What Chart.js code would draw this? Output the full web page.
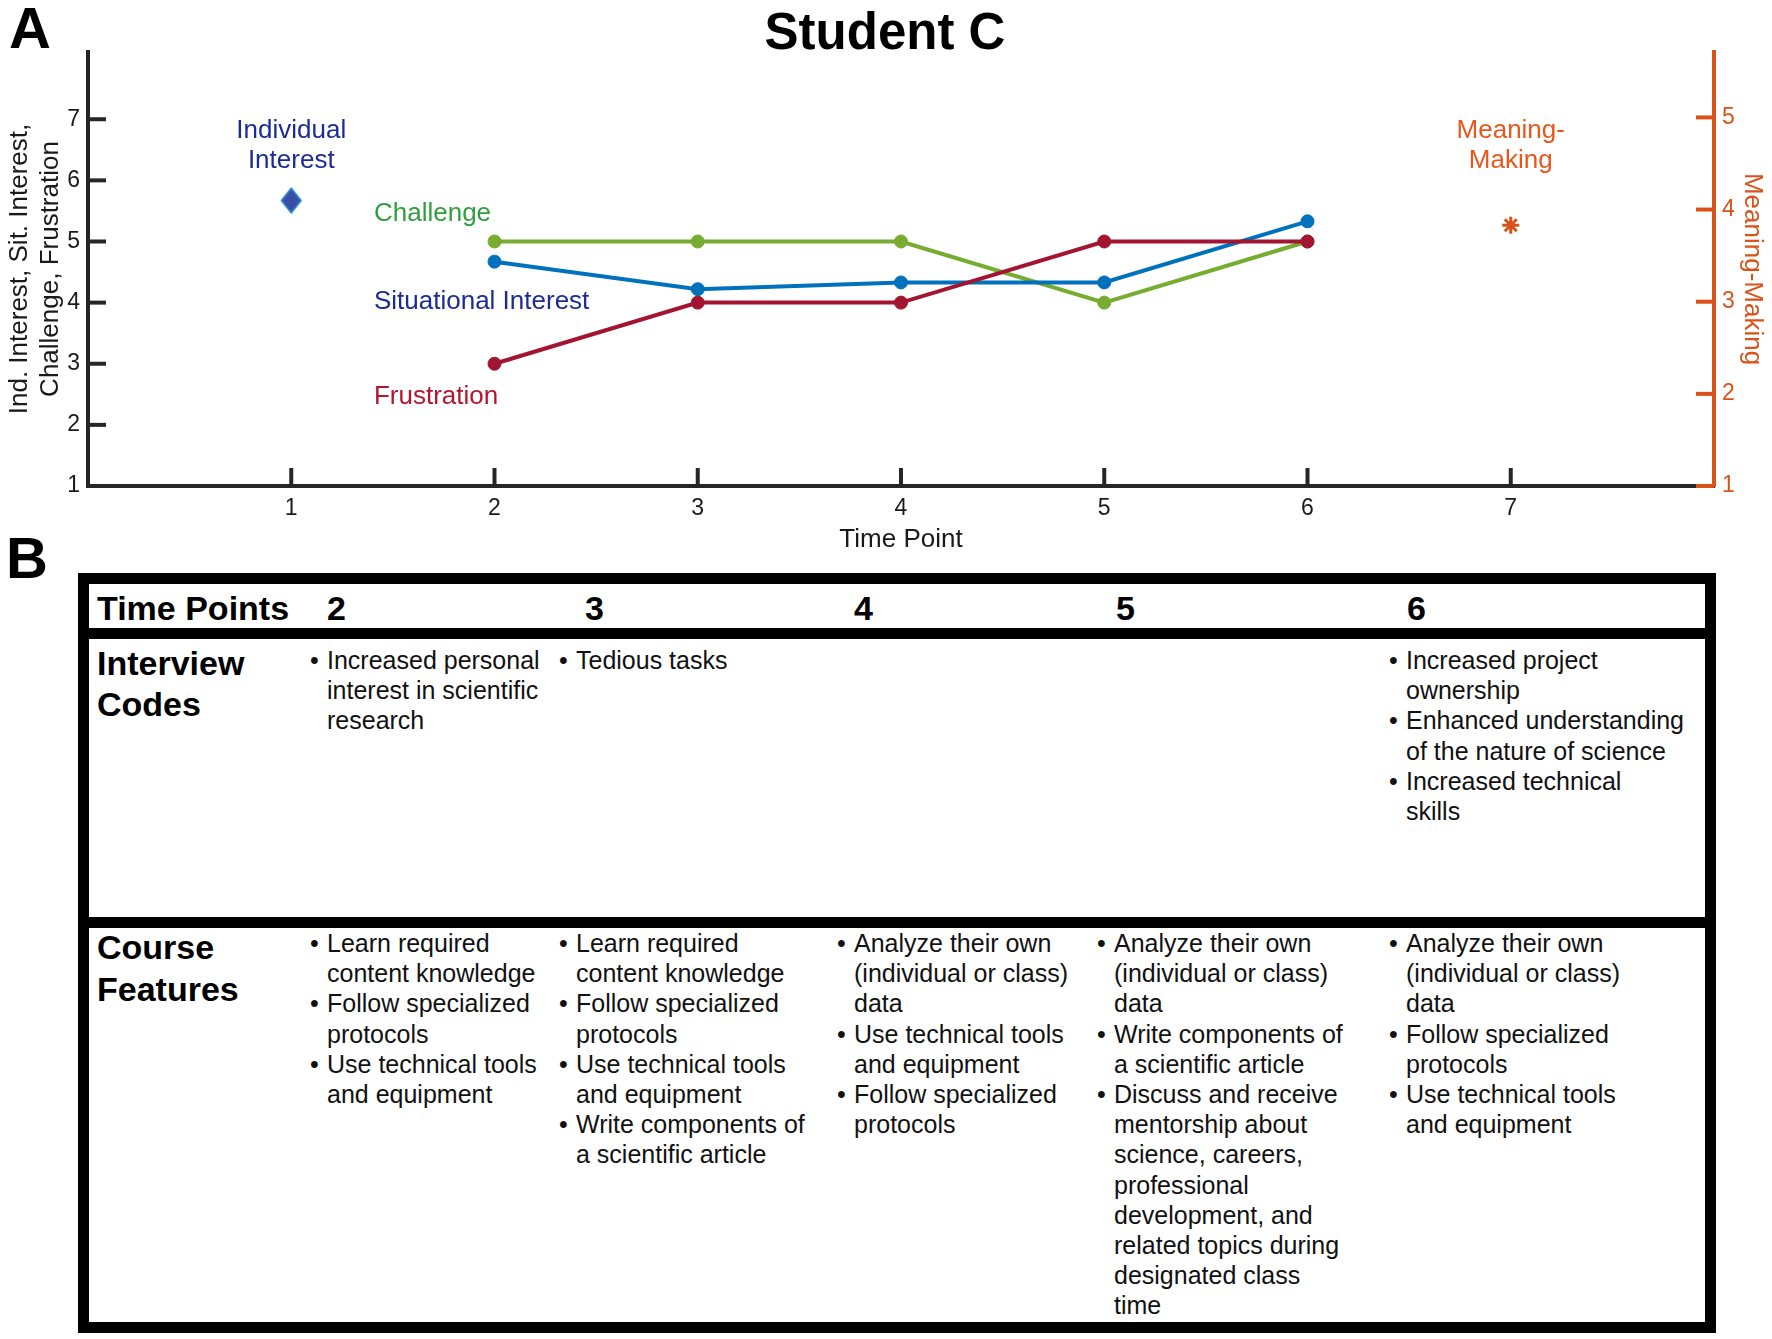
<!DOCTYPE html>
<html>
<head>
<meta charset="utf-8">
<script src="https://cdn.jsdelivr.net/npm/chart.js@4.4.1/dist/chart.umd.min.js"></script>
<style>
  html, body { margin: 0; padding: 0; background: #fff; }
  body { width: 1772px; height: 1339px; position: relative; overflow: hidden;
         font-family: "Liberation Sans", Arial, sans-serif; color: #111; }
  .abs { position: absolute; white-space: nowrap; }
  .panel { font-family: "Liberation Sans Narrow", "Liberation Sans", Arial, sans-serif;
           font-weight: bold; font-size: 58px; line-height: 58px; color: #000; }
  .title { font-weight: bold; font-size: 51px; line-height: 51px; color: #000; }
  .frame { box-sizing: border-box; border: 11px solid #000; }
  .rule { background: #000; }
  .head { font-weight: bold; font-size: 34px; line-height: 34px; color: #000; }
  .rowlabel { font-weight: bold; font-size: 34px; color: #000; }
  .cell { font-size: 25px; line-height: 30.2px; color: #111; }
  .item { position: relative; padding-left: 17px; }
  .bullet { position: absolute; left: 0; top: 0; }
  #chartBox canvas { display: block; }
</style>
</head>
<body>
<div class="abs panel" style="left:9px;top:-1px">A</div>
<div class="abs title" style="left:0;top:6px;width:1770px;text-align:center">Student C</div>
<div class="abs" id="chartBox" style="left:0;top:0;width:1772px;height:560px">
  <canvas id="chart" width="1772" height="560"></canvas>
</div>
<div class="abs panel" style="left:6px;top:529px">B</div>

<script>
// panel A data
const timePoints = [2, 3, 4, 5, 6];
const situationalInterest = [4.67, 4.22, 4.33, 4.33, 5.33];
const challenge = [5, 5, 5, 4, 5];
const frustration = [3, 4, 4, 5, 5];
const individualTime = [1];
const individualInterest = [5.67];
const meaningTime = [7];
const meaningMaking = [3.83];

const xTickValues = [1, 2, 3, 4, 5, 6, 7];
const leftTickValues = [1, 2, 3, 4, 5, 6, 7];
const rightTickValues = [1, 2, 3, 4, 5];

// panel B table text
const headerNumbers = ['2', '3', '4', '5', '6'];
const interviewCodes = [
  [['Increased personal', 'interest in scientific', 'research']],
  [['Tedious tasks']],
  [],
  [],
  [['Increased project', 'ownership'],
   ['Enhanced understanding', 'of the nature of science'],
   ['Increased technical', 'skills']],
];
const courseFeatures = [
  [['Learn required', 'content knowledge'],
   ['Follow specialized', 'protocols'],
   ['Use technical tools', 'and equipment']],
  [['Learn required', 'content knowledge'],
   ['Follow specialized', 'protocols'],
   ['Use technical tools', 'and equipment'],
   ['Write components of', 'a scientific article']],
  [['Analyze their own', '(individual or class)', 'data'],
   ['Use technical tools', 'and equipment'],
   ['Follow specialized', 'protocols']],
  [['Analyze their own', '(individual or class)', 'data'],
   ['Write components of', 'a scientific article'],
   ['Discuss and receive', 'mentorship about', 'science, careers,', 'professional',
    'development, and', 'related topics during', 'designated class', 'time']],
  [['Analyze their own', '(individual or class)', 'data'],
   ['Follow specialized', 'protocols'],
   ['Use technical tools', 'and equipment']],
];

const AXIS = '#262626';
const ORANGE = '#D95319';
const BLUE = '#0072BD';
const GREEN = '#77AC30';
const RED = '#A2142F';

const toPoints = (xs, ys) => xs.map((x, i) => ({ x: x, y: ys[i] }));

function makeDiamond(w, h) {
  const c = document.createElement('canvas');
  c.width = w + 4;
  c.height = h + 4;
  const g = c.getContext('2d');
  g.beginPath();
  g.moveTo(c.width / 2, 2);
  g.lineTo(c.width - 2, c.height / 2);
  g.lineTo(c.width / 2, c.height - 2);
  g.lineTo(2, c.height / 2);
  g.closePath();
  g.fillStyle = '#3A4DA6';
  g.fill();
  g.lineWidth = 2;
  g.strokeStyle = '#1F7CC6';
  g.stroke();
  return c;
}

// ticks point into the plot, like the original figure
const innerTicks = {
  id: 'innerTicks',
  afterDraw(chart) {
    const { ctx, chartArea, scales } = chart;
    const len = 18;
    ctx.save();
    ctx.lineWidth = 4;
    ctx.lineCap = 'butt';
    ctx.strokeStyle = AXIS;
    scales.x.ticks.forEach((t) => {
      const px = scales.x.getPixelForValue(t.value);
      ctx.beginPath();
      ctx.moveTo(px, chartArea.bottom);
      ctx.lineTo(px, chartArea.bottom - len);
      ctx.stroke();
    });
    scales.y.ticks.forEach((t) => {
      const py = scales.y.getPixelForValue(t.value);
      ctx.beginPath();
      ctx.moveTo(chartArea.left, py);
      ctx.lineTo(chartArea.left + len, py);
      ctx.stroke();
    });
    ctx.strokeStyle = ORANGE;
    scales.y2.ticks.forEach((t) => {
      const py = scales.y2.getPixelForValue(t.value);
      ctx.beginPath();
      ctx.moveTo(chartArea.right, py);
      ctx.lineTo(chartArea.right - len, py);
      ctx.stroke();
    });
    ctx.restore();
  },
};

// coloured names written next to the series
const seriesLabels = {
  id: 'seriesLabels',
  afterDatasetsDraw(chart) {
    const { ctx, scales: { x, y } } = chart;
    const items = [
      { lines: ['Individual', 'Interest'], x: 1, y: 6.7, color: '#1D2B94', align: 'center' },
      { lines: ['Challenge'], x: 1.407, y: 5.336, color: '#2F9E3E', align: 'left' },
      { lines: ['Situational Interest'], x: 1.407, y: 3.89, color: '#1D2B94', align: 'left' },
      { lines: ['Frustration'], x: 1.407, y: 2.336, color: '#B3142E', align: 'left' },
      { lines: ['Meaning-', 'Making'], x: 7, y: 6.7, color: '#E8571C', align: 'center' },
    ];
    ctx.save();
    ctx.font = '26px "Liberation Sans", Arial, sans-serif';
    ctx.textBaseline = 'alphabetic';
    items.forEach((item) => {
      ctx.fillStyle = item.color;
      ctx.textAlign = item.align;
      const px = x.getPixelForValue(item.x);
      const py = y.getPixelForValue(item.y);
      item.lines.forEach((line, i) => ctx.fillText(line, px, py + i * 30));
    });
    ctx.restore();
  },
};

Chart.defaults.font.family = '"Liberation Sans", Arial, sans-serif';
Chart.defaults.color = '#1a1a1a';

function lineSet(label, ys, color) {
  return {
    label: label,
    data: toPoints(timePoints, ys),
    borderColor: color,
    backgroundColor: color,
    borderWidth: 4,
    pointRadius: 6.5,
    pointBorderWidth: 1,
    pointBorderColor: color,
    pointBackgroundColor: color,
    tension: 0,
  };
}

new Chart(document.getElementById('chart'), {
  type: 'line',
  data: {
    datasets: [
      lineSet('Frustration', frustration, RED),
      lineSet('Situational Interest', situationalInterest, BLUE),
      lineSet('Challenge', challenge, GREEN),
      {
        label: 'Individual Interest',
        data: toPoints(individualTime, individualInterest),
        showLine: false,
        pointStyle: makeDiamond(19, 24),
        pointRadius: 12,
      },
      {
        label: 'Meaning-Making',
        yAxisID: 'y2',
        data: toPoints(meaningTime, meaningMaking),
        showLine: false,
        pointStyle: 'star',
        pointRadius: 8.5,
        pointBorderWidth: 3,
        pointBorderColor: ORANGE,
        borderColor: ORANGE,
        backgroundColor: ORANGE,
      },
    ],
  },
  options: {
    responsive: false,
    animation: false,
    devicePixelRatio: 1,
    layout: { padding: { top: 52, left: 0, right: 0, bottom: 0 } },
    plugins: {
      legend: { display: false },
      tooltip: { enabled: false },
    },
    scales: {
      x: {
        type: 'linear',
        position: 'bottom',
        min: 0,
        max: 8,
        afterFit: (s) => { s.height = 74; },
        afterBuildTicks: (s) => { s.ticks = xTickValues.map((v) => ({ value: v })); },
        grid: { display: false, drawTicks: false },
        border: { display: true, color: AXIS, width: 4 },
        ticks: { font: { size: 23 }, color: '#1a1a1a', padding: 9, maxRotation: 0, autoSkip: false },
        title: {
          display: true,
          text: 'Time Point',
          font: { size: 26, lineHeight: 1.2 },
          color: '#1a1a1a',
          padding: { top: 0, bottom: 5 },
        },
      },
      y: {
        type: 'linear',
        position: 'left',
        min: 1,
        max: 8.1,
        afterFit: (s) => { s.width = 88; },
        afterBuildTicks: (s) => { s.ticks = leftTickValues.map((v) => ({ value: v })); },
        grid: { display: false, drawTicks: false },
        border: { display: true, color: AXIS, width: 4 },
        ticks: { font: { size: 23 }, color: '#1a1a1a', padding: 8 },
        title: {
          display: true,
          text: ['Ind. Interest, Sit. Interest,', 'Challenge, Frustration'],
          font: { size: 26, lineHeight: 1.2 },
          color: '#1a1a1a',
          padding: { top: 4, bottom: 0 },
        },
      },
      y2: {
        type: 'linear',
        position: 'right',
        min: 1,
        max: 5.71,
        afterFit: (s) => { s.width = 58; },
        afterBuildTicks: (s) => { s.ticks = rightTickValues.map((v) => ({ value: v })); },
        grid: { display: false, drawTicks: false },
        border: { display: true, color: ORANGE, width: 4 },
        ticks: { font: { size: 23 }, color: ORANGE, padding: 8 },
        title: {
          display: true,
          text: 'Meaning-Making',
          font: { size: 26, lineHeight: 1.2 },
          color: ORANGE,
          padding: { top: 4, bottom: 0 },
        },
      },
    },
  },
  plugins: [innerTicks, seriesLabels],
});

// panel B: the table under the chart
const colTextX = [327, 576, 854, 1114, 1406];
const headerX = [327, 585, 854, 1116, 1407];

function addDiv(cls, style, text) {
  const d = document.createElement('div');
  d.className = 'abs ' + cls;
  Object.assign(d.style, style);
  if (text !== undefined) d.textContent = text;
  document.body.appendChild(d);
  return d;
}

function addCell(items, textX, top) {
  const cell = addDiv('cell', { left: (textX - 17) + 'px', top: top + 'px' });
  items.forEach((lines) => {
    const item = document.createElement('div');
    item.className = 'item';
    const b = document.createElement('span');
    b.className = 'bullet';
    b.textContent = '\u2022';
    item.appendChild(b);
    lines.forEach((ln, i) => {
      if (i) item.appendChild(document.createElement('br'));
      item.appendChild(document.createTextNode(ln));
    });
    cell.appendChild(item);
  });
}

addDiv('frame', { left: '78px', top: '573px', width: '1638px', height: '760px' });
addDiv('rule', { left: '78px', top: '628px', width: '1638px', height: '11px' });
addDiv('rule', { left: '78px', top: '917px', width: '1638px', height: '11px' });

addDiv('head', { left: '97px', top: '591px' }, 'Time Points');
headerNumbers.forEach((n, i) => addDiv('head', { left: headerX[i] + 'px', top: '591px' }, n));

const iv = addDiv('rowlabel', { left: '97px', top: '643px', lineHeight: '41px' });
iv.innerHTML = 'Interview<br>Codes';
const cf = addDiv('rowlabel', { left: '97px', top: '926px', lineHeight: '42px' });
cf.innerHTML = 'Course<br>Features';

interviewCodes.forEach((items, i) => addCell(items, colTextX[i], 645));
courseFeatures.forEach((items, i) => addCell(items, colTextX[i], 928));
</script>
</body>
</html>
